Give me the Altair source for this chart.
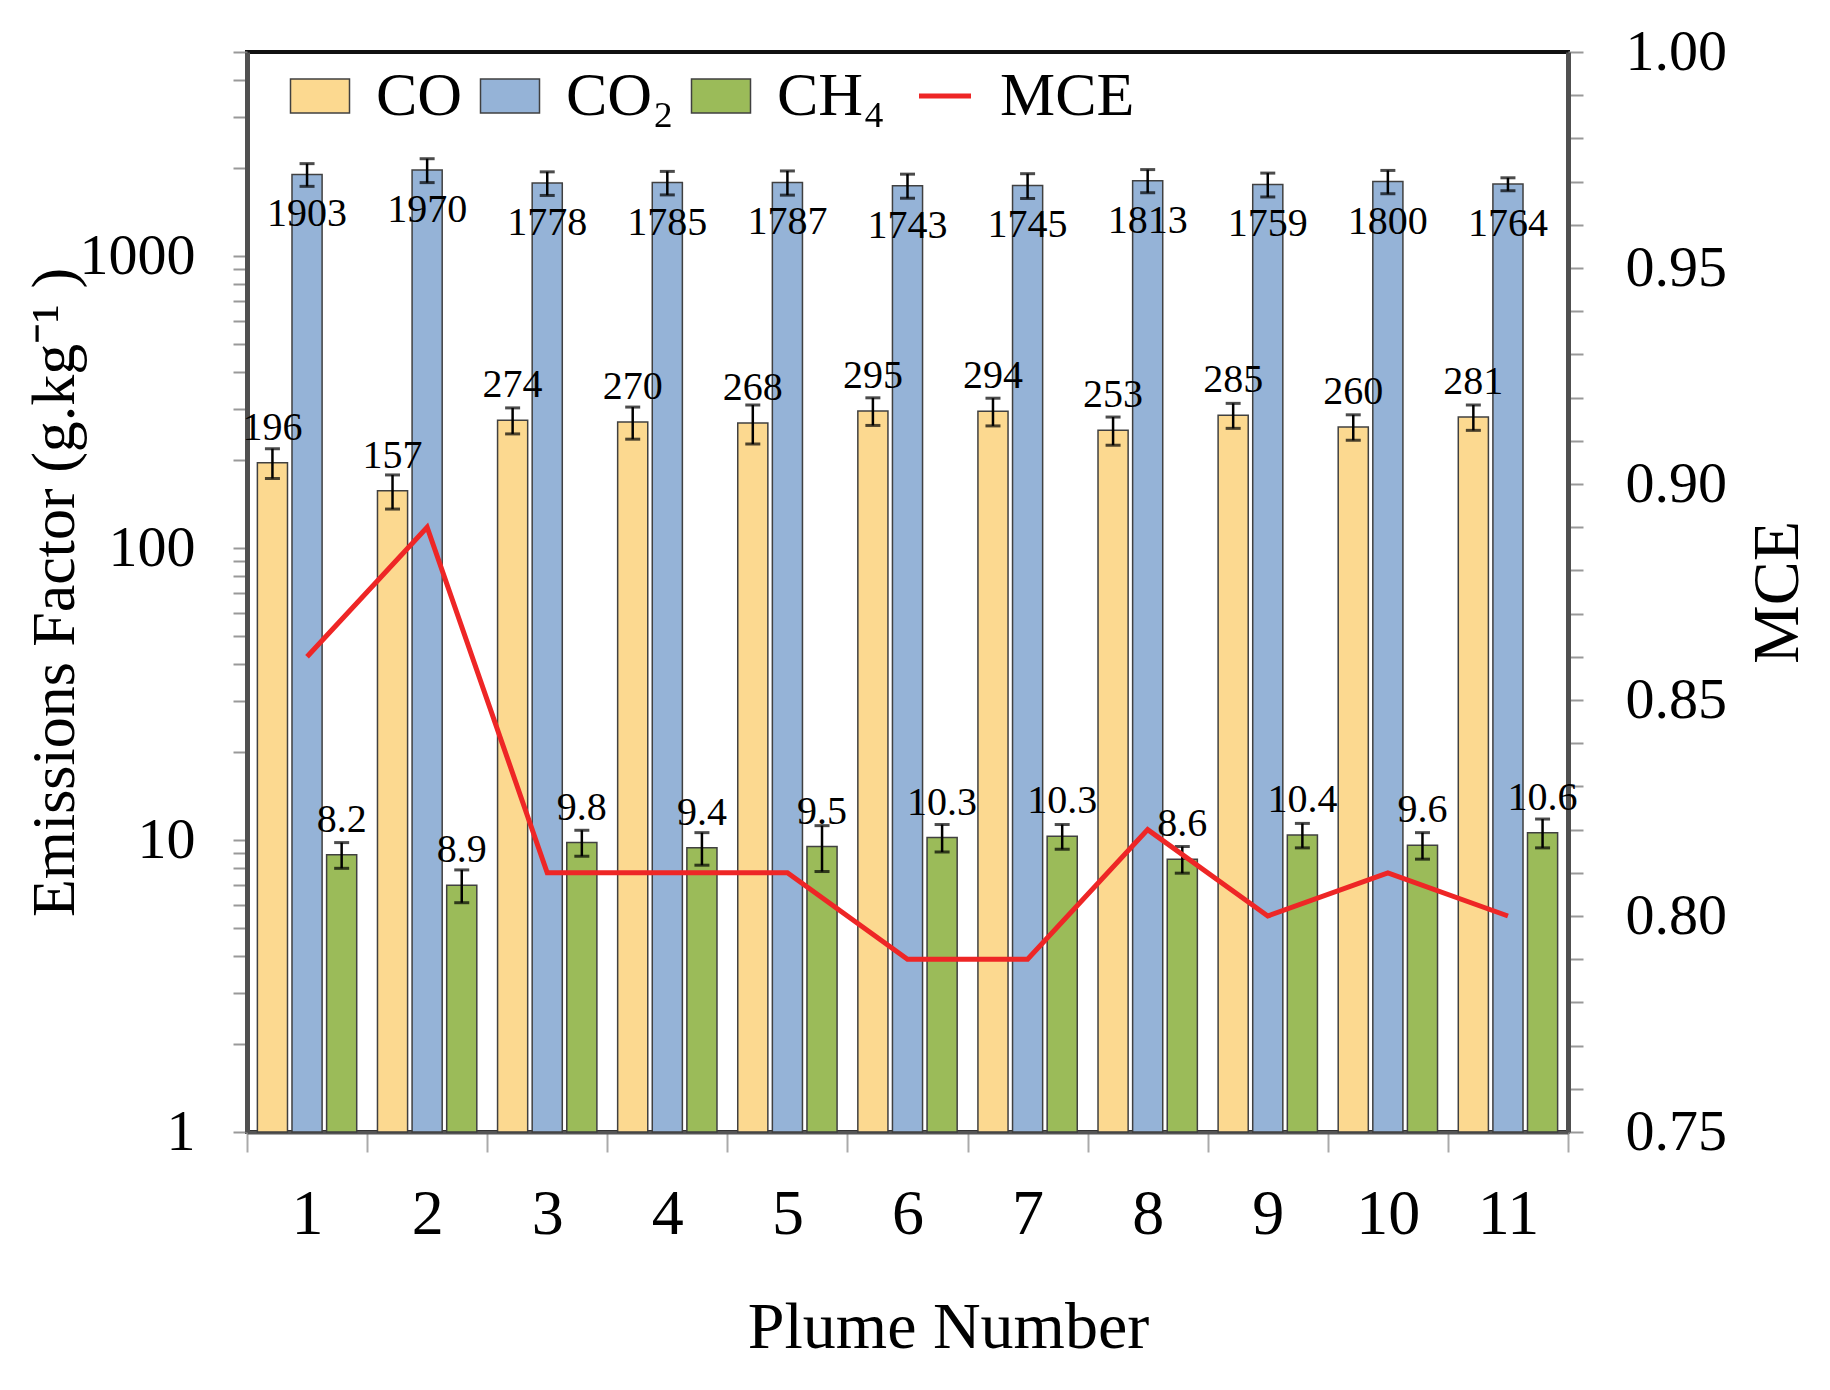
import altair as alt
import pandas as pd

FONT = "Liberation Serif"

plumes = [str(i) for i in range(1, 12)]
gases = ["CO", "CO₂", "CH₄"]
gas_colors = ["#FCD990", "#95B3D7", "#9BBB59"]

co = [196, 157, 274, 270, 268, 295, 294, 253, 285, 260, 281]
co_err = [23, 21, 28, 34, 41, 32, 32, 28, 28, 26, 28]
co2 = [1903, 1970, 1778, 1785, 1787, 1743, 1745, 1813, 1759, 1800, 1764]
co2_err = [170, 185, 165, 165, 170, 165, 170, 165, 165, 165, 90]
ch4 = [8.9, 7.0, 9.8, 9.4, 9.5, 10.2, 10.3, 8.6, 10.4, 9.6, 10.6]
ch4_err = [0.9, 0.9, 1.0, 1.2, 1.7, 1.1, 1.0, 0.9, 1.0, 1.0, 1.2]
ch4_labels = ["8.2", "8.9", "9.8", "9.4", "9.5", "10.3", "10.3", "8.6", "10.4", "9.6", "10.6"]
mce = [0.86, 0.89, 0.81, 0.81, 0.81, 0.79, 0.79, 0.82, 0.80, 0.81, 0.80]

rows = []
for i, p in enumerate(plumes):
    for g, vals, errs, labs in [
        ("CO", co, co_err, [str(v) for v in co]),
        ("CO₂", co2, co2_err, [str(v) for v in co2]),
        ("CH₄", ch4, ch4_err, ch4_labels),
    ]:
        rows.append({"plume": p, "gas": g, "value": vals[i], "base": 1,
                     "lo": vals[i] - errs[i], "hi": vals[i] + errs[i],
                     "label": labs[i]})
bars_df = pd.DataFrame(rows)
mce_df = pd.DataFrame({"plume": plumes, "mce": mce, "series": ["MCE"] * len(plumes)})

log_ticks = [m * 10 ** e for e in range(4) for m in range(1, 10) if m * 10 ** e <= 5000]
mce_ticks = [round(0.75 + 0.01 * i, 2) for i in range(26)]

xscale = alt.Scale(type="band", domain=plumes, paddingInner=0, paddingOuter=0)
xoff = alt.XOffset("gas:N", scale=alt.Scale(domain=gases, paddingInner=0.13, paddingOuter=0.3))
yscale = alt.Scale(type="log", domain=[1, 5000], nice=False)

x_axis = alt.Axis(
    title="Plume Number", titleFont=FONT, titleFontSize=66, titleFontWeight="normal",
    titleColor="black", titleX=701, titleY=195, titleBaseline="middle", titleAlign="center",
    labelFont=FONT, labelFontSize=64, labelColor="black", labelAngle=0,
    labelBaseline="middle", labelPadding=62,
    tickBand="extent", tickSize=20, tickColor="#aaaaaa", tickWidth=2,
    domainColor="#555555", domainWidth=4, grid=False,
)
y_axis = alt.Axis(
    orient="left", values=log_ticks,
    labelExpr="indexof([1,10,100,1000], datum.value) >= 0 ? format(datum.value, 'd') : ''",
    title="Emissions Factor (g.kg⁻¹ )", titleFont=FONT, titleFontSize=62,
    titleFontWeight="normal", titleColor="black", titleX=-161, titleY=540,
    titleAngle=270, titleBaseline="bottom", titleAlign="center",
    labelFont=FONT, labelFontSize=58, labelColor="black", labelPadding=38,
    labelOverlap=False, tickSize=14, tickColor="#999999", tickWidth=2,
    domainColor="#505050", domainWidth=5, grid=False,
)

X = alt.X("plume:N", scale=xscale, axis=x_axis)


def Y(field):
    return alt.Y(field, scale=yscale, axis=y_axis)


base = alt.Chart(bars_df)

bars = base.mark_bar(stroke="#404040", strokeWidth=1.5).encode(
    x=X,
    xOffset=xoff,
    y=Y("value:Q"),
    y2="base:Q",
    color=alt.Color(
        "gas:N",
        scale=alt.Scale(domain=gases, range=gas_colors),
        legend=alt.Legend(
            title=None, orient="none", legendX=42, legendY=13, direction="horizontal",
            padding=0, symbolType="M-1,-0.58H1V0.58H-1Z", symbolSize=3481,
            symbolStrokeColor="#404040", symbolStrokeWidth=1.5, symbolOpacity=1,
            labelFont=FONT, labelFontSize=62, labelColor="black", labelOffset=25,
            columnPadding=14, labelLimit=300,
        ),
    ),
)

err_rule = base.mark_rule(color="black", strokeWidth=2.5).encode(
    x=X, xOffset=xoff, y=Y("lo:Q"), y2="hi:Q")
err_lo = base.mark_tick(color="black", thickness=3, size=15, orient="horizontal").encode(
    x=X, xOffset=xoff, y=Y("lo:Q"))
err_hi = base.mark_tick(color="black", thickness=3, size=15, orient="horizontal").encode(
    x=X, xOffset=xoff, y=Y("hi:Q"))

text_above = base.transform_filter(alt.datum.gas != "CO₂").mark_text(
    font=FONT, fontSize=40, color="black", baseline="middle", dy=-35).encode(
    x=X, xOffset=xoff, y=Y("value:Q"), text="label:N")
text_below = base.transform_filter(alt.datum.gas == "CO₂").mark_text(
    font=FONT, fontSize=40, color="black", baseline="middle", dy=40).encode(
    x=X, xOffset=xoff, y=Y("value:Q"), text="label:N")

left = alt.layer(bars, err_rule, err_lo, err_hi, text_above, text_below)

line = alt.Chart(mce_df).mark_line(strokeWidth=5).encode(
    x=X,
    y=alt.Y(
        "mce:Q",
        scale=alt.Scale(domain=[0.75, 1.0], nice=False, zero=False),
        axis=alt.Axis(
            orient="right", values=mce_ticks,
            labelExpr="round(datum.value*100) % 5 == 0 ? format(datum.value, '.2f') : ''",
            title="MCE", titleFont=FONT, titleFontSize=66, titleFontWeight="normal",
            titleColor="black", titleX=177, titleY=540, titleAngle=270,
            titleBaseline="top", titleAlign="center",
            labelFont=FONT, labelFontSize=58, labelColor="black", labelPadding=42,
            labelOverlap=False, tickSize=15, tickColor="#999999", tickWidth=2,
            domainColor="#505050", domainWidth=5, grid=False,
        ),
    ),
    stroke=alt.Stroke(
        "series:N",
        scale=alt.Scale(domain=["MCE"], range=["#EE2626"]),
        legend=alt.Legend(
            title=None, orient="none", legendX=667, legendY=13, padding=0,
            symbolType="stroke", symbolSize=2704, symbolStrokeWidth=5,
            labelFont=FONT, labelFontSize=62, labelColor="black", labelOffset=24,
            labelLimit=300,
        ),
    ),
)

chart = alt.layer(left, line).resolve_scale(y="independent").properties(
    width=1321, height=1080,
    autosize=alt.AutoSizeParams(type="none"),
    padding={"left": 239, "top": 44, "right": 252, "bottom": 230},
    background="white",
).configure_view(stroke="#111111", strokeWidth=4)

chart.save("out.html", embed_options={"renderer": "svg", "actions": False})
